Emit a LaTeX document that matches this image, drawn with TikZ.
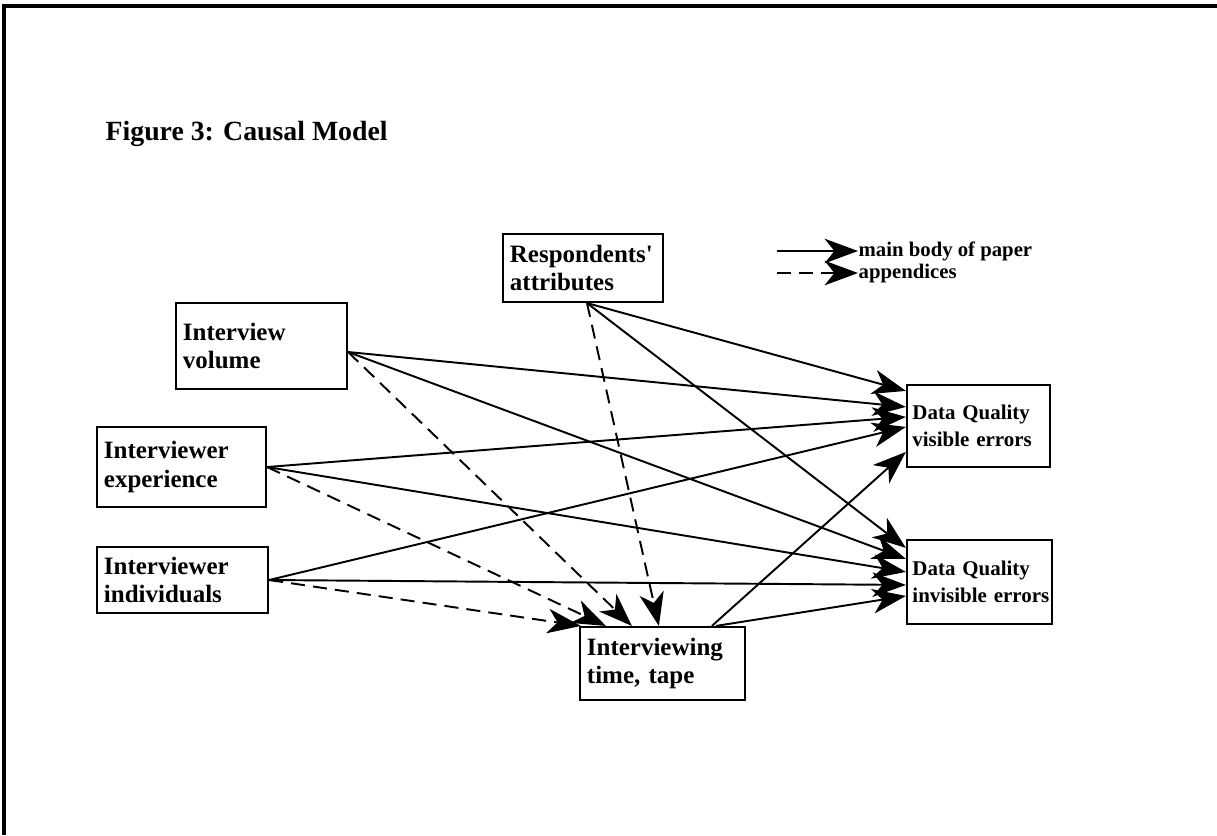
\documentclass[tikz,border=0pt]{standalone}
\usepackage{fontspec}
\setmainfont{Liberation Serif}
\usetikzlibrary{arrows.meta,calc}

\begin{document}
\begin{tikzpicture}[x=0.01cm,y=-0.01cm]
\tikzstyle{every node}+=[inner sep=0pt]
\tikzstyle{factor}=[draw, line width=0.6pt, align=left, inner xsep=0.07cm, font=\bfseries\fontsize{7.1}{8.2}\selectfont]
\tikzstyle{quality}=[factor, inner xsep=0.055cm, font=\bfseries\fontsize{5.95}{7.6}\selectfont]
\tikzstyle{legendtext}=[anchor=west, font=\bfseries\fontsize{5.9}{7}\selectfont]
\tikzstyle{causal}=[line width=0.55pt, -{Stealth[length=9.5pt,width=7pt,inset=2.8pt]}]
\tikzstyle{appendix}=[causal, dash pattern=on 4pt off 2.3pt]
\useasboundingbox (0,0) rectangle (1217,835);
\draw [line width=1pt] (1217,6) -- (4,6) -- (4,835);
\node [anchor=base west, font=\bfseries\fontsize{7.9}{9}\selectfont] (title) at (105,140) {Figure 3: Causal Model};
\node [factor, text width=1.46cm, minimum height=0.68cm] (resp) at (583,268) {Respondents\textquotesingle\\attributes};
\node [factor, text width=1.57cm, minimum height=0.86cm] (vol) at (261.5,346) {Interview\\volume};
\node [factor, text width=1.55cm, minimum height=0.80cm] (exp) at (181.5,467) {Interviewer\\experience};
\node [factor, text width=1.57cm, minimum height=0.66cm] (ind) at (182.5,580) {Interviewer\\individuals};
\node [factor, text width=1.51cm, minimum height=0.73cm] (time) at (662.5,663.5) {Interviewing\\time, tape};
\node [quality, text width=1.32cm, minimum height=0.82cm] (dqv) at (978.5,426) {Data Quality\\\mbox{visible errors}};
\node [quality, text width=1.34cm, minimum height=0.84cm] (dqi) at (979.5,582) {Data Quality\\\mbox{invisible errors}};
% legend
\node [legendtext] (lgsolid) at (858,251) {main body of paper};
\node [legendtext] (lgdash) at (858,273) {appendices};
\coordinate (lgsolidtail) at (777,251);
\coordinate (lgdashtail) at (777,273);
\draw [causal] (lgsolidtail) -- (lgsolid.west);
\draw [appendix] (lgdashtail) -- (lgdash.west);
% tails
\coordinate (respfoot) at ($(resp.south)+(4,0)$);
\coordinate (volside) at ($(vol.east)+(0,6)$);
\coordinate (timetop) at ($(time.north west)+(133,0)$);
% main body
\draw [causal] (respfoot) -- ($(dqv.north west)+(0,7)$);
\draw [causal] (respfoot) -- ($(dqi.north west)+(0,9)$);
\draw [causal] (volside) -- ($(dqv.north west)+(0,23)$);
\draw [causal] (volside) -- ($(dqi.north west)+(0,20)$);
\draw [causal] (exp.east) -- ($(dqv.north west)+(0,33)$);
\draw [causal] (exp.east) -- ($(dqi.north west)+(0,33)$);
\draw [causal] (ind.east) -- ($(dqv.north west)+(0,43)$);
\draw [causal] (ind.east) -- ($(dqi.north west)+(0,46)$);
\draw [causal] (timetop) -- ($(dqv.north west)+(0,68)$);
\draw [causal] ($(timetop)+(4,0)$) -- ($(dqi.north west)+(0,57)$);
% appendices
\draw [appendix] (respfoot) -- ($(time.north west)+(80,0)$);
\draw [appendix] (volside) -- ($(time.north west)+(53,0)$);
\draw [appendix] (exp.east) -- ($(time.north west)+(27,0)$);
\draw [appendix] (ind.east) -- ($(time.north west)+(2,0)$);
\end{tikzpicture}
\end{document}
